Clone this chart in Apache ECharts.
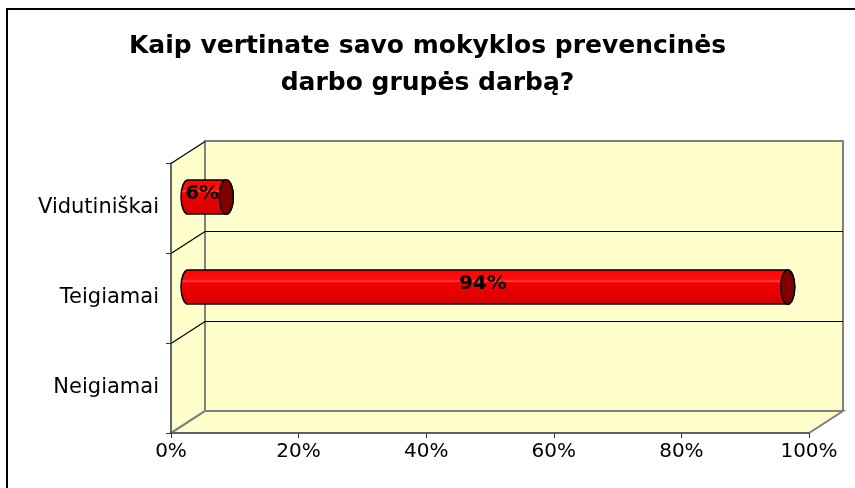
<!DOCTYPE html>
<html>
<head>
<meta charset="utf-8">
<script src="https://cdn.jsdelivr.net/npm/echarts@6/dist/echarts.min.js"></script>
<style>
html,body{margin:0;padding:0;background:#fff;}
#container1{width:855px;height:488px;}
</style>
</head>
<body>
<div id="container1"></div>
<script>
var categories = ['Neigiamai', 'Teigiamai', 'Vidutiniškai'];
var values = [0, 0.94, 0.06];
var labels = ['', '94%', '6%'];
var xTicks = [0, 0.2, 0.4, 0.6, 0.8, 1];

var depthX = 34, depthY = -22;   // offset of the back wall
var wallColor = '#FFFFCC';
var fontFamily = 'DejaVu Sans';

var myChart = echarts.init(document.getElementById('container1'));
initChart();

function initChart(){

var option = {
    animation: false,
    title: {
        text: 'Kaip vertinate savo mokyklos prevencinės\ndarbo grupės darbą?',
        left: 'center',
        top: 23,
        textStyle: {
            fontFamily: fontFamily,
            fontSize: 25,
            fontWeight: 'bold',
            color: '#000',
            lineHeight: 37
        }
    },
    grid: {left: 171, right: 46, top: 163, bottom: 55},
    xAxis: {
        type: 'value',
        min: xTicks[0],
        max: xTicks[xTicks.length - 1],
        interval: xTicks[1] - xTicks[0],
        z: 10,
        splitLine: {show: false},
        axisLine: {show: true, lineStyle: {color: '#555', width: 1.5}},
        axisTick: {show: true, length: 5, lineStyle: {color: '#333'}},
        axisLabel: {
            margin: 9,
            fontFamily: fontFamily,
            fontSize: 20,
            color: '#000',
            formatter: function (v) { return Math.round(v * 100) + '%'; }
        }
    },
    yAxis: {
        type: 'category',
        data: categories,
        z: 10,
        axisLine: {show: true, lineStyle: {color: '#333', width: 1.5}},
        axisTick: {show: true, length: 5, lineStyle: {color: '#333'}},
        axisLabel: {margin: 12, fontFamily: fontFamily, fontSize: 21, color: '#000'}
    },
    series: [{
        type: 'custom',
        z: 5,
        data: values.map(function (v, i) { return [v, i]; }),
        encode: {x: 0, y: 1},
        renderItem: function (params, api) {
            var val = api.value(0);
            var idx = api.value(1);
            if (!val) return null;
            var c0 = api.coord([0, idx]);
            var c1 = api.coord([val, idx]);
            var band = api.size([0, 1])[1];
            var h = band * 0.38, ry = h / 2, rx = 7;
            var cy = c0[1] + depthY / 2;
            var xL = c0[0] + depthX / 2;
            var xR = c1[0] + depthX / 2;
            var top = cy - ry, bot = cy + ry;
            var body = 'M' + xL + ',' + top + ' L' + xR + ',' + top +
                ' A' + rx + ',' + ry + ' 0 0 1 ' + xR + ',' + bot +
                ' L' + xL + ',' + bot +
                ' A' + rx + ',' + ry + ' 0 0 1 ' + xL + ',' + top + ' Z';
            var cap = 'M' + xR + ',' + top +
                ' A' + rx + ',' + ry + ' 0 0 1 ' + xR + ',' + bot +
                ' A' + rx + ',' + ry + ' 0 0 1 ' + xR + ',' + top + ' Z';
            return {
                type: 'group',
                children: [{
                    type: 'path',
                    shape: {pathData: body},
                    style: {
                        fill: new echarts.graphic.LinearGradient(0, 0, 0, 1, [
                            {offset: 0, color: '#ff0000'},
                            {offset: 0.3, color: '#ff1010'},
                            {offset: 0.34, color: '#ff4a4a'},
                            {offset: 0.38, color: '#f40000'},
                            {offset: 1, color: '#d40000'}
                        ]),
                        stroke: '#000',
                        lineWidth: 1.5
                    }
                }, {
                    type: 'path',
                    shape: {pathData: cap},
                    style: {fill: '#800000', stroke: '#000', lineWidth: 1.5}
                }, {
                    type: 'text',
                    style: {
                        x: (xL + xR) / 2 - 5,
                        y: cy - 3,
                        text: labels[idx],
                        align: 'center',
                        verticalAlign: 'middle',
                        fill: '#000',
                        font: 'bold 20px "' + fontFamily + '"'
                    }
                }]
            };
        }
    }]
};
myChart.setOption(option);

drawWalls();
}

function drawWalls(){
    var x0 = myChart.convertToPixel({xAxisIndex: 0}, 0);
    var x1 = myChart.convertToPixel({xAxisIndex: 0}, 1);
    var yc = categories.map(function (c, i) {
        return myChart.convertToPixel({yAxisIndex: 0}, i);
    });
    var band = Math.abs(yc[0] - yc[1]);
    var yTop = yc[categories.length - 1] - band / 2;
    var yBot = yc[0] + band / 2;
    var dx = depthX, dy = depthY;

    var g = [];
    // outer frame
    g.push({type: 'rect', z: 0, shape: {x: 7, y: 9, width: 900, height: 520},
        style: {fill: 'none', stroke: '#000', lineWidth: 2}});
    // side wall
    g.push({type: 'polygon', z: 1, shape: {points: [[x0, yTop], [x0 + dx, yTop + dy], [x0 + dx, yBot + dy], [x0, yBot]]},
        style: {fill: wallColor, stroke: 'none'}});
    // floor
    g.push({type: 'polygon', z: 1, shape: {points: [[x0, yBot], [x1, yBot], [x1 + dx, yBot + dy], [x0 + dx, yBot + dy]]},
        style: {fill: wallColor, stroke: '#808080', lineWidth: 2}});
    // back wall
    g.push({type: 'rect', z: 1, shape: {x: x0 + dx, y: yTop + dy, width: x1 - x0, height: yBot - yTop},
        style: {fill: wallColor, stroke: '#808080', lineWidth: 2}});
    // grid lines at category boundaries
    for (var i = 1; i <= categories.length; i++) {
        var y = Math.round(yc[0] + band / 2 - band * i) + 0.5;
        if (i < categories.length) {
            g.push({type: 'line', z: 2, shape: {x1: x0 + dx, y1: y + dy, x2: x1 + dx, y2: y + dy},
                style: {stroke: '#000', lineWidth: 1}});
        }
        g.push({type: 'line', z: 2, shape: {x1: x0, y1: y, x2: x0 + dx, y2: y + dy},
            style: {stroke: '#000', lineWidth: 1.2}});
    }
    g.push({type: 'line', z: 2, shape: {x1: x0, y1: yBot, x2: x0 + dx, y2: yBot + dy},
        style: {stroke: '#808080', lineWidth: 2}});

    myChart.setOption({graphic: g});
}
</script>
</body>
</html>
